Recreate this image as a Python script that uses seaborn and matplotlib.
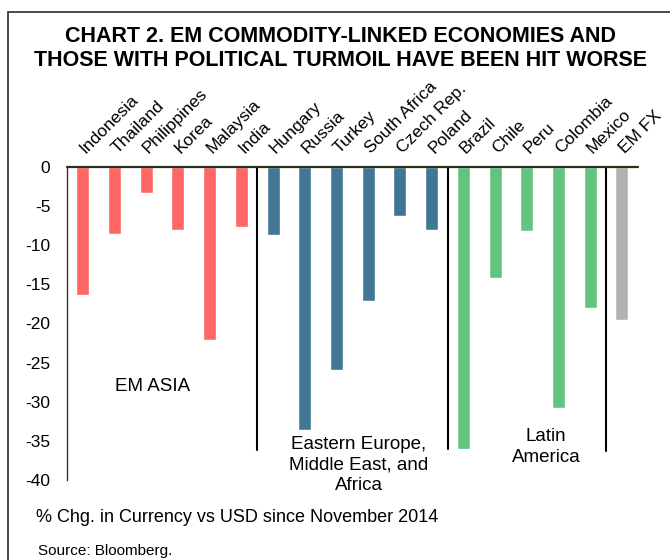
import pandas as pd
import matplotlib.pyplot as plt
import seaborn as sns
from matplotlib.patches import Rectangle

# data
countries = ['Indonesia', 'Thailand', 'Philippines', 'Korea', 'Malaysia', 'India',
             'Hungary', 'Russia', 'Turkey', 'South Africa', 'Czech Rep.', 'Poland',
             'Brazil', 'Chile', 'Peru', 'Colombia', 'Mexico', 'EM FX']
changes = [-16.4, -8.6, -3.4, -8.1, -22.1, -7.7,
           -8.7, -33.6, -25.9, -17.2, -6.3, -8.1,
           -36.0, -14.2, -8.2, -30.8, -18.0, -19.6]
regions = ['Asia'] * 6 + ['EEMEA'] * 6 + ['LatAm'] * 5 + ['EM']
region_colors = {'Asia': '#FF6666', 'EEMEA': '#417694', 'LatAm': '#62C57F', 'EM': '#B2B2B2'}

df = pd.DataFrame({'country': countries, 'change': changes, 'region': regions})

sns.set_style('white')
plt.rcParams['font.family'] = ['Liberation Sans', 'DejaVu Sans']
plt.rcParams['text.color'] = 'black'
plt.rcParams['ytick.color'] = 'black'

fig = plt.figure(figsize=(6.7, 5.6), dpi=100)
ax = fig.add_axes([0.1, 0.143, 0.852, 0.559])

sns.barplot(data=df, x='country', y='change', hue='region', palette=region_colors,
            dodge=False, width=0.41, saturation=1, legend=False, ax=ax)

ax.set_ylim(-40, 0)
ax.set_xlim(-0.5, 17.5)
ax.set_yticks(range(-40, 1, 5))
ax.set_yticklabels([str(v) for v in range(-40, 1, 5)], fontsize=12.5)
ax.tick_params(axis='y', length=0, pad=12)
ax.set_xticks([])
ax.set_xlabel('')
ax.set_ylabel('')
for s in ['top', 'right', 'bottom']:
    ax.spines[s].set_visible(False)
ax.spines['left'].set_color('#333333')
ax.spines['left'].set_linewidth(1.0)
ax.axhline(0, color='#2b2f1a', lw=1.6, zorder=5, clip_on=False)

# separators between regions
ax.plot([5.5, 5.5], [0, -36.2], color='black', lw=1.5)
ax.plot([11.5, 11.5], [0, -36.0], color='black', lw=1.5)
ax.plot([16.5, 16.5], [-0.2, -36.3], color='black', lw=1.5)

# rotated country labels above the axis
for i, name in enumerate(countries):
    ax.text(i + 0.15, 1.4, name, rotation=45, rotation_mode='anchor',
            ha='left', va='bottom', fontsize=12.5, clip_on=False)

# region labels
ax.text(2.2, -28.0, 'EM ASIA', ha='center', va='center', fontsize=13.5)
ax.text(8.7, -34.4, 'Eastern Europe,\nMiddle East, and\nAfrica', ha='center', va='top',
        fontsize=13.5, linespacing=1.25)
ax.text(14.6, -33.4, 'Latin\nAmerica', ha='center', va='top', fontsize=13.5, linespacing=1.3)

fig.text(0.508, 1 - 26.5 / 560,
         'CHART 2. EM COMMODITY-LINKED ECONOMIES AND\nTHOSE WITH POLITICAL TURMOIL HAVE BEEN HIT WORSE',
         ha='center', va='top', fontsize=15.5, fontweight='bold', linespacing=1.15)
fig.text(36 / 670, 1 - 517 / 560, '% Chg. in Currency vs USD since November 2014',
         ha='left', va='center', fontsize=13)
fig.text(38 / 670, 1 - 551 / 560, 'Source: Bloomberg.', ha='left', va='center', fontsize=11)

fig.patches.append(Rectangle((8 / 670, -0.1), 1.0, 1.1 - 12 / 560, transform=fig.transFigure,
                             fill=False, edgecolor='#2b2f1a', lw=1.2, clip_on=False))

fig.savefig('out.png', dpi=100)
